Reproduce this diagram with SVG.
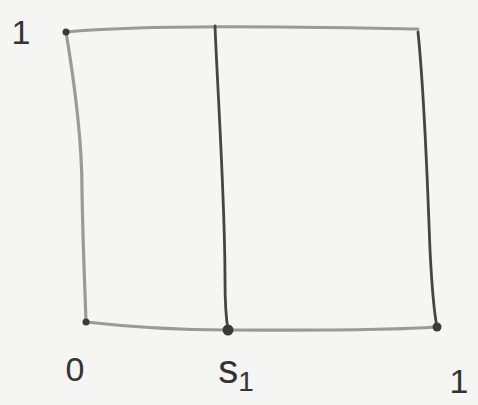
<svg xmlns="http://www.w3.org/2000/svg" width="478" height="405" viewBox="0 0 478 405">
<style>
.bg{fill:#f5f5f3}
.light{fill:none;stroke:#9a9a9a;stroke-width:3.2;stroke-linecap:round;stroke-linejoin:round}
.dark{fill:none;stroke:#454545;stroke-width:2.8;stroke-linecap:round;stroke-linejoin:round}
.dot{fill:#3a3a3a}
.lbl{font-family:"Liberation Sans",Arial,sans-serif;font-size:34px;fill:#333;text-anchor:middle}
.big{font-size:40px}
.sub{font-family:"Liberation Sans",Arial,sans-serif;font-size:28px;fill:#333}
</style>
<rect class="bg" x="0" y="0" width="478" height="405"/>
<g id="connectors">
<path class="light" d="M66,32 C150,24 300,27 418,29"/>
<path class="light" d="M66,32 C74,80 82,140 82,190 C83,250 85,290 86,322"/>
<path class="light" d="M86,322 C130,327 180,330 228,330 C300,330 380,331 437,327"/>
<path class="dark" d="M215,26 C218,100 225,200 225,280 C225,300 226,318 228,330"/>
<path class="dark" d="M418,32 C425,100 428,200 430,250 C432,290 434,312 437,327"/>
</g>
<g id="node-top-left">
<circle class="dot" cx="66" cy="32" r="3.5"/>
<text class="lbl" x="21" y="44">1</text>
</g>
<g id="node-origin">
<circle class="dot" cx="86" cy="322" r="3.5"/>
<text class="lbl" x="75" y="381">0</text>
</g>
<g id="node-s1">
<circle class="dot" cx="228" cy="330" r="5.5"/>
<text class="lbl big" x="236" y="383">s<tspan class="sub" dy="8">1</tspan></text>
</g>
<g id="node-right">
<circle class="dot" cx="437" cy="327" r="4.5"/>
<text class="lbl" x="459" y="393">1</text>
</g>
</svg>
